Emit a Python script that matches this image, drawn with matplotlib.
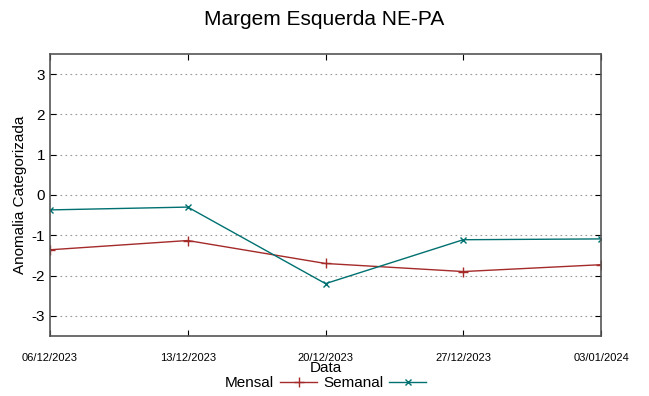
import numpy as np
import matplotlib
matplotlib.use('Agg')
import matplotlib.pyplot as plt

plt.rcParams['font.family'] = ['Liberation Sans', 'DejaVu Sans']

dates = ['06/12/2023', '13/12/2023', '20/12/2023', '27/12/2023', '03/01/2024']
mensal = [-1.36, -1.13, -1.70, -1.90, -1.73]
semanal = [-0.37, -0.30, -2.20, -1.11, -1.09]
yticks = [-3, -2, -1, 0, 1, 2, 3]

fig = plt.figure(figsize=(6.49, 3.96), dpi=100)
ax = fig.add_axes([50 / 649, 1 - 336 / 396, 551 / 649, 282 / 396])

x = np.arange(len(dates))
ax.plot(x, mensal, color='#a52a2a', lw=1, marker='+', ms=7, mew=1, label='Mensal')
ax.plot(x, semanal, color='#007070', lw=1, marker='x', ms=5, mew=1, label='Semanal')

ax.set_xlim(0, len(dates) - 1)
ax.set_ylim(-3.5, 3.5)
ax.set_xticks(x)
ax.set_xticklabels(dates, fontsize=8)
ax.set_yticks(yticks)
ax.set_yticklabels([str(v) for v in yticks], fontsize=11)
ax.tick_params(direction='in', top=True, right=True, length=4, color='black')
ax.tick_params(axis='x', pad=12)
ax.yaxis.grid(True, linestyle=(0, (1.5, 3)), color='#999999', lw=0.8)
for s in ax.spines.values():
    s.set_color('#555555')
    s.set_linewidth(1.2)

ax.set_ylabel('Anomalia Categorizada', fontsize=11, labelpad=3)
ax.set_xlabel('Data', fontsize=11, labelpad=-1)
fig.suptitle('Margem Esquerda NE-PA', fontsize=15, y=0.975)

ax.legend(loc='center', bbox_to_anchor=(0.5, -47 / 282), ncol=2, frameon=False,
          fontsize=11, markerfirst=False, handlelength=2.4, columnspacing=0.4,
          handletextpad=0.4, borderpad=0)

fig.savefig('out.png', dpi=100)
